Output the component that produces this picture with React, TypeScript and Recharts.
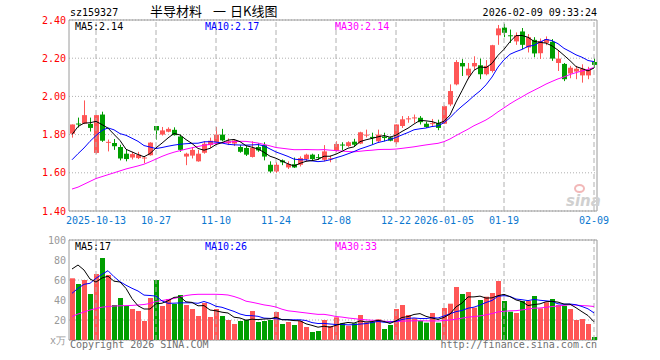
import {
  ComposedChart,
  Bar,
  Line,
  XAxis,
  YAxis,
  CartesianGrid,
  ReferenceLine,
  ReferenceArea,
  Cell,
} from "recharts";

// trading days shown in the window
const dates = [
  "2025-09-29", "2025-09-30", "2025-10-09", "2025-10-10",
  "2025-10-13", "2025-10-14", "2025-10-15", "2025-10-16", "2025-10-17",
  "2025-10-20", "2025-10-21", "2025-10-22", "2025-10-23", "2025-10-24",
  "2025-10-27", "2025-10-28", "2025-10-29", "2025-10-30", "2025-10-31",
  "2025-11-03", "2025-11-04", "2025-11-05", "2025-11-06", "2025-11-07",
  "2025-11-10", "2025-11-11", "2025-11-12", "2025-11-13", "2025-11-14",
  "2025-11-17", "2025-11-18", "2025-11-19", "2025-11-20", "2025-11-21",
  "2025-11-24", "2025-11-25", "2025-11-26", "2025-11-27", "2025-11-28",
  "2025-12-01", "2025-12-02", "2025-12-03", "2025-12-04", "2025-12-05",
  "2025-12-08", "2025-12-09", "2025-12-10", "2025-12-11", "2025-12-12",
  "2025-12-15", "2025-12-16", "2025-12-17", "2025-12-18", "2025-12-19",
  "2025-12-22", "2025-12-23", "2025-12-24", "2025-12-25", "2025-12-26",
  "2025-12-29", "2025-12-30", "2025-12-31",
  "2026-01-05", "2026-01-06", "2026-01-07", "2026-01-08", "2026-01-09",
  "2026-01-12", "2026-01-13", "2026-01-14", "2026-01-15", "2026-01-16",
  "2026-01-19", "2026-01-20", "2026-01-21", "2026-01-22", "2026-01-23",
  "2026-01-26", "2026-01-27", "2026-01-28", "2026-01-29", "2026-01-30",
  "2026-02-02", "2026-02-03", "2026-02-04", "2026-02-05", "2026-02-06",
  "2026-02-09",
];

const opens = [
  1.805, 1.858, 1.858, 1.856, 1.704, 1.905, 1.757, 1.756, 1.735, 1.7,
  1.68, 1.677, 1.675, 1.692, 1.845, 1.8, 1.815, 1.825, 1.79, 1.685,
  1.69, 1.66, 1.705, 1.745, 1.76, 1.8, 1.755, 1.753, 1.735, 1.73,
  1.683, 1.735, 1.745, 1.642, 1.607, 1.665, 1.628, 1.645, 1.642, 1.672,
  1.695, 1.682, 1.668, 1.672, 1.716, 1.748, 1.74, 1.763, 1.753, 1.795,
  1.788, 1.765, 1.79, 1.785, 1.76, 1.845, 1.88, 1.885, 1.888, 1.857,
  1.855, 1.86, 1.857, 1.958, 2.063, 2.175, 2.11, 2.157, 2.163, 2.116,
  2.133, 2.32, 2.36, 2.32, 2.288, 2.34, 2.256, 2.296, 2.226, 2.28,
  2.286, 2.175, 2.17, 2.12, 2.13, 2.11, 2.11, 2.18,
];

const highs = [
  1.853, 1.889, 1.979, 1.889, 1.902, 1.92, 1.774, 1.777, 1.747, 1.72,
  1.71, 1.71, 1.685, 1.76, 1.845, 1.84, 1.838, 1.838, 1.8, 1.705,
  1.735, 1.72, 1.765, 1.784, 1.84, 1.83, 1.78, 1.775, 1.745, 1.74,
  1.765, 1.755, 1.76, 1.66, 1.655, 1.67, 1.66, 1.68, 1.686, 1.7,
  1.7, 1.698, 1.745, 1.69, 1.765, 1.76, 1.765, 1.778, 1.815, 1.826,
  1.81, 1.826, 1.81, 1.79, 1.853, 1.897, 1.897, 1.905, 1.897, 1.868,
  1.882, 1.878, 1.952, 2.063, 2.19, 2.195, 2.175, 2.21, 2.198, 2.19,
  2.27, 2.374, 2.38, 2.35, 2.335, 2.358, 2.326, 2.31, 2.303, 2.314,
  2.3, 2.24, 2.175, 2.16, 2.16, 2.168, 2.155, 2.198,
];

const lows = [
  1.784, 1.837, 1.855, 1.816, 1.7, 1.762, 1.712, 1.72, 1.665, 1.66,
  1.67, 1.672, 1.65, 1.69, 1.774, 1.795, 1.812, 1.795, 1.71, 1.64,
  1.675, 1.658, 1.7, 1.73, 1.755, 1.765, 1.745, 1.74, 1.705, 1.688,
  1.68, 1.71, 1.665, 1.6, 1.6, 1.64, 1.62, 1.625, 1.633, 1.66,
  1.662, 1.668, 1.66, 1.655, 1.71, 1.72, 1.735, 1.738, 1.75, 1.785,
  1.748, 1.757, 1.765, 1.765, 1.75, 1.835, 1.862, 1.862, 1.853, 1.835,
  1.84, 1.823, 1.855, 1.949, 2.058, 2.107, 2.09, 2.14, 2.09, 2.11,
  2.125, 2.27, 2.31, 2.28, 2.27, 2.248, 2.23, 2.205, 2.196, 2.268,
  2.186, 2.133, 2.08, 2.095, 2.09, 2.072, 2.09, 2.15,
];

const closes = [
  1.853, 1.855, 1.902, 1.835, 1.902, 1.768, 1.762, 1.739, 1.675, 1.672,
  1.698, 1.695, 1.68, 1.758, 1.822, 1.822, 1.83, 1.797, 1.72, 1.7,
  1.72, 1.7, 1.752, 1.768, 1.8, 1.77, 1.765, 1.77, 1.71, 1.695,
  1.73, 1.717, 1.685, 1.607, 1.642, 1.655, 1.646, 1.628, 1.677, 1.695,
  1.672, 1.678, 1.712, 1.676, 1.751, 1.745, 1.76, 1.747, 1.812, 1.8,
  1.782, 1.8, 1.782, 1.768, 1.853, 1.88, 1.885, 1.89, 1.865, 1.84,
  1.86, 1.835, 1.949, 2.028, 2.18, 2.157, 2.145, 2.175, 2.116, 2.16,
  2.268, 2.356, 2.333, 2.315, 2.32, 2.27, 2.31, 2.225, 2.29, 2.3,
  2.198, 2.198, 2.09, 2.15, 2.145, 2.145, 2.138, 2.165,
];

// volume, in 万
const volumes = [
  61.7, 56, 60, 46, 66, 82, 65, 35, 42, 34,
  31, 29, 19, 42, 60, 34, 41, 36, 45, 35,
  31, 24, 37, 23, 31, 24, 20, 16, 19, 20,
  29, 18, 19, 20, 28, 16, 18, 15, 19, 13,
  8, 9, 20, 14, 22.7, 16.7, 14.3, 16.7, 25, 17.7,
  18.3, 20.7, 11, 15, 31, 35, 25, 21.7, 19.3, 17.3,
  27, 17.3, 32, 36.3, 53, 46, 48, 32.3, 40, 43.3,
  47, 59, 39, 28.3, 27, 39, 39, 44, 31.7, 37.7,
  41, 35, 34.3, 31, 20, 21, 16, 3,
];

// MA values at the left edge (they depend on days before the window)
const ma5Head = [1.8, 1.842, 1.86, 1.862];
const ma10Head = [1.668, 1.7, 1.73, 1.765, 1.795, 1.822, 1.835, 1.825, 1.805];
const ma30Head = [
  1.515, 1.525, 1.54, 1.555, 1.57, 1.58, 1.59, 1.6, 1.61, 1.62,
  1.628, 1.636, 1.645, 1.658, 1.672, 1.686, 1.698, 1.708, 1.716, 1.724,
  1.731, 1.738, 1.744, 1.749, 1.754, 1.758, 1.761, 1.763, 1.765,
];
const vma5Head = [71, 75, 70, 61];
const vma10Head = [46.7, 51.7, 55.7, 56.7, 61.7, 65.7, 69.3, 63.3, 58.3];
const vma30Head = [
  23.5, 26, 28, 30, 31.5, 32.8, 33.5, 34, 34.2, 34.4,
  34.6, 35, 35.5, 36.5, 38.5, 39.5, 40.5, 41.5, 43, 44.5,
  45.3, 45.7, 45.7, 45.7, 45.7, 45.5, 45, 43.5, 41.5,
];

const tickDates = [
  "2025-10-13", "2025-10-27", "2025-11-10", "2025-11-24", "2025-12-08",
  "2025-12-22", "2026-01-05", "2026-01-19", "2026-02-09",
];
const tickLabels = [
  "2025-10-13", "10-27", "11-10", "11-24", "12-08",
  "12-22", "2026-01-05", "01-19", "02-09",
];
const priceTicks = [1.4, 1.6, 1.8, 2.0, 2.2, 2.4];
const volTicks = [0, 20, 40, 60, 80, 100];

const RED = "#ff5656";
const GREEN = "#009e00";
const GRID = "#b0b0b0";
const BORDER = "#9a9a9a";
const MONO = "'DejaVu Sans Mono', 'Liberation Mono', monospace";
const CJK = "'Noto Sans CJK SC', sans-serif";

function movingAvg(series: number[], n: number, head: number[]) {
  return series.map((_, i) => {
    if (i < head.length) return head[i];
    let s = 0;
    for (let k = i - n + 1; k <= i; k++) s += series[k];
    return s / n;
  });
}

const ma5 = movingAvg(closes, 5, ma5Head);
const ma10 = movingAvg(closes, 10, ma10Head);
const ma30 = movingAvg(closes, 30, ma30Head);
const vma5 = movingAvg(volumes, 5, vma5Head);
const vma10 = movingAvg(volumes, 10, vma10Head);
const vma30 = movingAvg(volumes, 30, vma30Head);

const rows = dates.map((date, i) => ({
  date,
  open: opens[i],
  high: highs[i],
  low: lows[i],
  close: closes[i],
  vol: volumes[i],
  ma5: ma5[i],
  ma10: ma10[i],
  ma30: ma30[i],
  vma5: vma5[i],
  vma10: vma10[i],
  vma30: vma30[i],
}));

function Candle(props: any) {
  const { x, y, height, payload } = props;
  const { open, close, high, low } = payload;
  const top = Math.min(y, y + height);
  const h = Math.abs(height);
  const k = high > low ? h / (high - low) : 0;
  const color = close >= open ? RED : GREEN;
  const left = Math.round(x);
  const bodyTop = top + (high - Math.max(open, close)) * k;
  const bodyH = Math.max(1, Math.abs(open - close) * k);
  return (
    <g>
      <line x1={left + 2.5} x2={left + 2.5} y1={top} y2={top + h} stroke={color} strokeWidth={1} />
      <rect x={left} y={bodyTop} width={5} height={bodyH} fill={color} />
    </g>
  );
}

function Txt({ left, right, top, color, size = 10, font = MONO, children }: any) {
  return (
    <div
      style={{
        position: "absolute",
        left,
        right,
        top,
        color,
        fontSize: size,
        fontFamily: font,
        lineHeight: `${size}px`,
        whiteSpace: "nowrap",
      }}
    >
      {children}
    </div>
  );
}

const tickFmt = (d: string) => tickLabels[tickDates.indexOf(d)] ?? "";

export default function App() {
  return (
    <div style={{ position: "absolute", left: 0, top: 0, width: 660, height: 360, background: "#fff" }}>
      <div style={{ position: "absolute", left: 0, top: 0 }}>
        <ComposedChart width={660} height={232} data={rows} margin={{ top: 20, right: 63, bottom: 0, left: 0 }}>
          <CartesianGrid vertical={false} stroke={GRID} strokeDasharray="1 2" />
          <XAxis
            dataKey="date"
            ticks={tickDates}
            interval={0}
            tickFormatter={tickFmt}
            axisLine={false}
            tickLine={false}
            tickSize={0}
            tickMargin={6}
            height={21}
            tick={{ fill: "#0b78d0", fontSize: 10, fontFamily: MONO }}
          />
          <YAxis
            domain={[1.4, 2.4]}
            ticks={priceTicks}
            tickFormatter={(v: number) => v.toFixed(2)}
            axisLine={false}
            tickLine={false}
            tickSize={0}
            tickMargin={3}
            width={69}
            tick={{ fill: "#ff0000", fontSize: 10, fontFamily: MONO }}
          />
          {tickDates.map((d) => (
            <ReferenceLine key={d} x={d} stroke={GRID} strokeDasharray="5 3" />
          ))}
          <ReferenceArea y1={1.4} y2={2.4} fill="none" stroke={BORDER} strokeWidth={1} />
          <Bar
            dataKey={(d: any) => [d.low, d.high]}
            shape={<Candle />}
            barSize={5}
            isAnimationActive={false}
          />
          <Line dataKey="ma30" stroke="#ff00ff" dot={false} strokeWidth={1} isAnimationActive={false} />
          <Line dataKey="ma10" stroke="#0000ff" dot={false} strokeWidth={1} isAnimationActive={false} />
          <Line dataKey="ma5" stroke="#000000" dot={false} strokeWidth={1} isAnimationActive={false} />
        </ComposedChart>
      </div>

      <div style={{ position: "absolute", left: 0, top: 230 }}>
        <ComposedChart width={660} height={130} data={rows} margin={{ top: 10, right: 63, bottom: 20, left: 0 }}>
          <CartesianGrid vertical={false} stroke={GRID} strokeDasharray="1 2" />
          <XAxis dataKey="date" hide />
          <YAxis
            domain={[0, 100]}
            ticks={volTicks}
            tickFormatter={(v: number) => (v === 0 ? "x万" : String(v))}
            axisLine={false}
            tickLine={false}
            tickSize={0}
            tickMargin={3}
            width={69}
            tick={{ fill: "#999999", fontSize: 10, fontFamily: MONO }}
          />
          {tickDates.map((d) => (
            <ReferenceLine key={d} x={d} stroke={GRID} strokeDasharray="5 3" />
          ))}
          <ReferenceArea y1={0} y2={100} fill="none" stroke={BORDER} strokeWidth={1} />
          <Bar dataKey="vol" barSize={5} isAnimationActive={false}>
            {rows.map((r, i) => (
              <Cell key={i} fill={r.close >= r.open ? RED : GREEN} />
            ))}
          </Bar>
          <Line dataKey="vma30" stroke="#ff00ff" dot={false} strokeWidth={1} isAnimationActive={false} />
          <Line dataKey="vma10" stroke="#0000ff" dot={false} strokeWidth={1} isAnimationActive={false} />
          <Line dataKey="vma5" stroke="#000000" dot={false} strokeWidth={1} isAnimationActive={false} />
        </ComposedChart>
      </div>

      {/* header */}
      <Txt left={70} top={8} color="#000">sz159327</Txt>
      <Txt left={150} top={4} color="#000" size={13} font={CJK}>半导材料</Txt>
      <Txt left={213} top={4} color="#000" size={13} font={CJK}>一</Txt>
      <Txt left={230} top={4} color="#000" size={13} font={CJK}>日K线图</Txt>
      <Txt right={63} top={8} color="#000">2026-02-09 09:33:24</Txt>

      {/* price legends */}
      <Txt left={75} top={22} color="#000">MA5:2.14</Txt>
      <Txt left={205} top={22} color="#0000ff">MA10:2.17</Txt>
      <Txt left={335} top={22} color="#ff00ff">MA30:2.14</Txt>

      {/* volume legends */}
      <Txt left={75} top={242} color="#000">MA5:17</Txt>
      <Txt left={205} top={242} color="#0000ff">MA10:26</Txt>
      <Txt left={335} top={242} color="#ff00ff">MA30:33</Txt>

      {/* watermark */}
      <div
        style={{
          position: "absolute",
          left: 574,
          top: 184,
          width: 7,
          height: 5,
          border: "2px solid #f2b8b8",
          borderRadius: "50%",
        }}
      />
      <Txt left={566} top={194} color="#d0d0d0" size={15} font="'DejaVu Sans', sans-serif">
        <b><i>sina</i></b>
      </Txt>

      {/* footer */}
      <Txt left={70} top={340} color="#707070">Copyright 2026 SINA.COM</Txt>
      <Txt right={63} top={340} color="#707070">http://finance.sina.com.cn</Txt>
    </div>
  );
}
